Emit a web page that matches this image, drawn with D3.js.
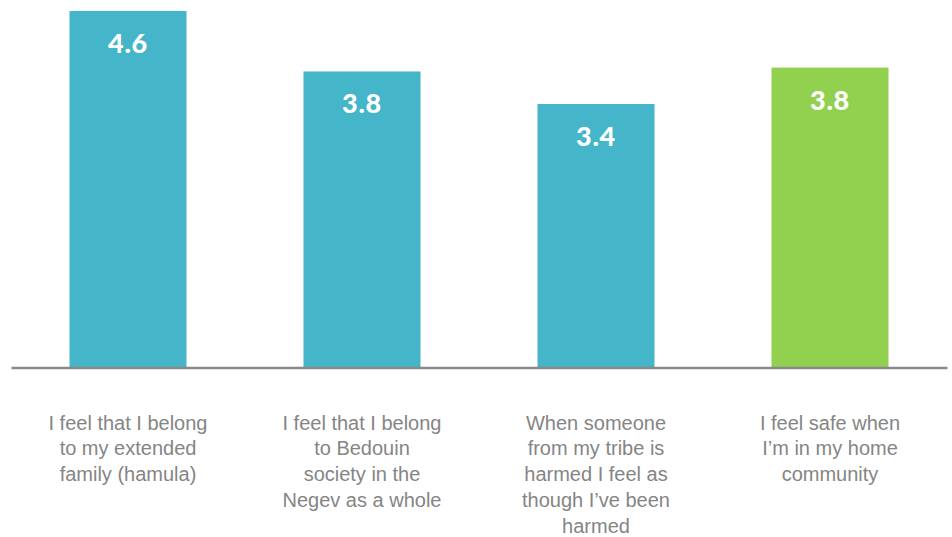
<!DOCTYPE html>
<html><head><meta charset="utf-8">
<script src="https://cdn.jsdelivr.net/npm/d3@7"></script>
<style>html,body{margin:0;padding:0;background:#fff;}svg{display:block;}</style>
</head><body>
<svg id="chart" width="952" height="537"></svg>
<script>
const categories = [
  ["I feel that I belong","to my extended","family (hamula)"],
  ["I feel that I belong","to Bedouin","society in the","Negev as a whole"],
  ["When someone","from my tribe is","harmed I feel as","though I\u2019ve been","harmed"],
  ["I feel safe when","I\u2019m in my home","community"]
];
const values = [4.6, 3.82, 3.4, 3.87];
const valueLabels = ["4.6", "3.8", "3.4", "3.8"];
const barColors = ["#45B5C9", "#45B5C9", "#45B5C9", "#92D050"];

const svg = d3.select("#chart");
const baseY = 367.5;
const x = d3.scaleBand().domain(d3.range(values.length)).range([11, 947]).paddingInner(0.5).paddingOuter(0.25);
const y = d3.scaleLinear().domain([0, 4.6]).range([baseY, 11]);

svg.selectAll("rect.bar").data(values).enter().append("rect")
  .attr("class","bar")
  .attr("x",(d,i)=>x(i)).attr("width",x.bandwidth())
  .attr("y",d=>y(d)).attr("height",d=>baseY-y(d))
  .attr("fill",(d,i)=>barColors[i]);

svg.selectAll("text.val").data(values).enter().append("text")
  .attr("class","val")
  .attr("x",(d,i)=>x(i)+x.bandwidth()/2)
  .attr("y",d=>y(d)+42)
  .attr("text-anchor","middle")
  .attr("fill","#fff")
  .style("font-family","Lato, 'Open Sans', sans-serif")
  .style("font-weight","900")
  .style("font-size","27px")
  .style("letter-spacing","0.8px")
  .text((d,i)=>valueLabels[i]);

const axis = d3.axisBottom(x).tickSize(0).tickFormat("");
const ag = svg.append("g").attr("transform",`translate(0,${baseY})`).call(axis);
ag.select(".domain").attr("stroke","#898989").attr("stroke-width",2.5);

const lab = svg.selectAll("text.cat").data(categories).enter().append("text")
  .attr("class","cat")
  .attr("text-anchor","middle")
  .attr("fill","#858585")
  .style("font-family","'Liberation Sans', Arial, sans-serif")
  .style("font-size","20px");
lab.each(function(lines,i){
  const t = d3.select(this);
  lines.forEach((ln,j)=>{
    t.append("tspan").attr("x",x(i)+x.bandwidth()/2).attr("y",429.5+j*25.9).text(ln);
  });
});
</script>
</body></html>
